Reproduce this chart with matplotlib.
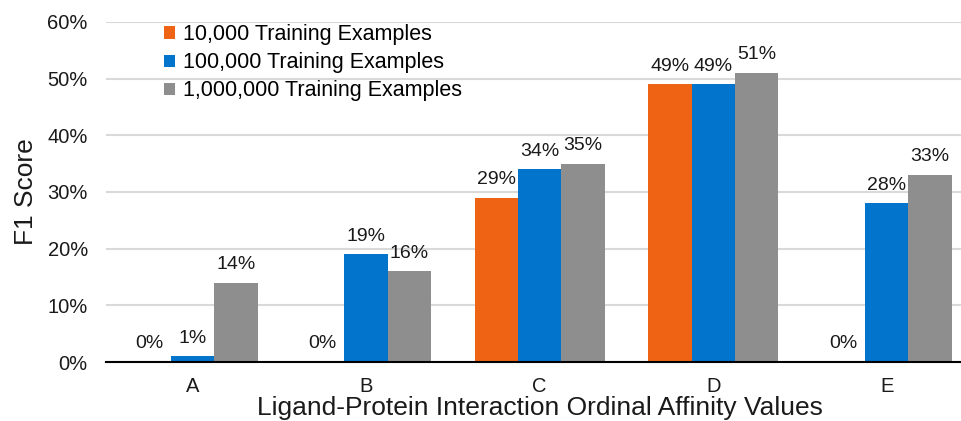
import matplotlib
matplotlib.use("Agg")
import matplotlib.pyplot as plt
import numpy as np

categories = ["A", "B", "C", "D", "E"]
series = ["10,000 Training Examples", "100,000 Training Examples", "1,000,000 Training Examples"]
f1_10k = [0, 0, 29, 49, 0]
f1_100k = [1, 19, 34, 49, 28]
f1_1m = [14, 16, 35, 51, 33]
colors = ["#EE6414", "#0274CC", "#8E8E8E"]

plt.rcParams["font.family"] = ["Liberation Sans", "DejaVu Sans"]

fig = plt.figure(figsize=(9.62, 4.21), dpi=100)
ax = fig.add_axes([0.110, 0.140, 0.902, 0.808])

x = np.arange(len(categories))
w = 0.25
for i, (vals, name, col) in enumerate(zip([f1_10k, f1_100k, f1_1m], series, colors)):
    pos = x + (i - 1) * w
    ax.bar(pos, vals, width=w, color=col, label=name, zorder=2)
    for p, v in zip(pos, vals):
        ax.annotate(f"{v}%", (p, v), xytext=(0, 7), textcoords="offset points",
                    ha="center", va="bottom", fontsize=14, color="#1a1a1a")

ax.set_ylim(0, 60)
ax.set_xlim(-0.5, 4.5)
ax.set_yticks(range(0, 61, 10))
ax.set_yticklabels([f"{t}%" for t in range(0, 61, 10)], fontsize=14.5, color="#1a1a1a")
ax.set_xticks(x)
ax.set_xticklabels(categories, fontsize=14.5, color="#1a1a1a")
ax.tick_params(axis="y", length=0, pad=13)
ax.tick_params(axis="x", length=0, pad=11)
ax.yaxis.grid(True, color="#D9D9D9", lw=1.5, zorder=0)
ax.set_axisbelow(True)
for s in ["top", "right", "left"]:
    ax.spines[s].set_visible(False)
ax.spines["bottom"].set_linewidth(1.5)
ax.spines["bottom"].set_zorder(3)

ax.set_ylabel("F1 Score", fontsize=19, color="#1a1a1a", labelpad=7)
ax.set_xlabel("Ligand-Protein Interaction Ordinal Affinity Values", fontsize=19,
              color="#1a1a1a", labelpad=-0.5)

ax.legend(loc="upper left", bbox_to_anchor=(0.045, 1.05), frameon=False, fontsize=15.5,
          handlelength=0.5, handleheight=0.5, handletextpad=0.35, labelspacing=0.33)

fig.savefig("out.png", dpi=100)
